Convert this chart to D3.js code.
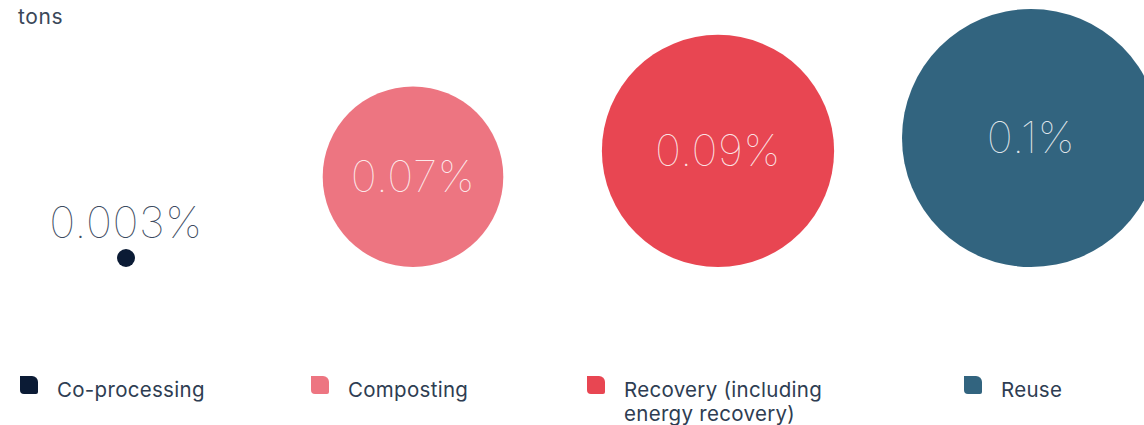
<!DOCTYPE html>
<html>
<head>
<meta charset="utf-8">
<script src="https://cdn.jsdelivr.net/npm/d3@7"></script>
<style>
  html, body { margin: 0; padding: 0; background: #fff; }
  svg { display: block; }
  text { font-family: Inter, "Open Sans", "DejaVu Sans", sans-serif; }
</style>
</head>
<body>
<svg id="chart" width="1144" height="425"></svg>
<script>
// ---- data ----
const categories = ["Co-processing", "Composting", "Recovery (including energy recovery)", "Reuse"];
const values = [0.003, 0.07, 0.09, 0.1];
const valueLabels = ["0.003%", "0.07%", "0.09%", "0.1%"];
const colors = ["#0b1b35", "#ed7581", "#e84652", "#32647f"];
const legendLines = [["Co-processing"], ["Composting"], ["Recovery (including", "energy recovery)"], ["Reuse"]];
const unitLabel = "tons";

// ---- layout ----
const W = 1144, H = 425;
const baseY = 267;
const svg = d3.select("#chart");

const x = d3.scaleOrdinal(categories, [126, 413, 718, 1031]);
const r = d3.scaleLinear().domain([0, 0.1]).range([0, 129]);
const rad = v => Math.max(9, r(v));
const color = d3.scaleOrdinal(categories, colors);

svg.append("text")
  .attr("x", 18).attr("y", 24)
  .attr("font-size", 21).attr("fill", "#3a4759")
  .attr("letter-spacing", 0.6)
  .text(unitLabel);

const data = categories.map((c, i) => ({c, v: values[i], label: valueLabels[i], legend: legendLines[i]}));

const g = svg.append("g");
g.selectAll("circle").data(data).join("circle")
  .attr("cx", d => x(d.c))
  .attr("cy", d => baseY - rad(d.v))
  .attr("r", d => rad(d.v))
  .attr("fill", d => color(d.c));

g.selectAll("text.val").data(data).join("text")
  .attr("class", "val")
  .attr("x", d => x(d.c))
  .attr("y", d => rad(d.v) > 40 ? baseY - rad(d.v) - 1 : baseY - 2 * rad(d.v) - 11)
  .attr("dominant-baseline", d => rad(d.v) > 40 ? "central" : "auto")
  .attr("text-anchor", "middle")
  .attr("font-size", 44)
  .attr("font-weight", 100)
  .attr("letter-spacing", 0.5)
  .attr("fill", d => rad(d.v) > 40 ? "rgba(255,255,255,0.85)" : "#3b4a60")
  .text(d => d.label);

// ---- legend ----
const legendX = d3.scaleOrdinal(categories, [20, 311, 587, 964]);
const lg = svg.append("g").selectAll("g").data(data).join("g")
  .attr("transform", d => `translate(${legendX(d.c)},376)`);

lg.append("path")
  .attr("d", "M0,0 H12 A6,6 0 0 1 18,6 V16 A2,2 0 0 1 16,18 H4 A4,4 0 0 1 0,14 Z")
  .attr("fill", d => color(d.c));

lg.append("text")
  .attr("x", 37)
  .attr("font-size", 20.5)
  .attr("font-weight", 400)
  .attr("letter-spacing", 0.3)
  .attr("fill", "#2e3d52")
  .selectAll("tspan").data(d => d.legend).join("tspan")
  .attr("x", 37)
  .attr("y", (d, i) => 21 + i * 24)
  .text(d => d);
</script>
</body>
</html>
